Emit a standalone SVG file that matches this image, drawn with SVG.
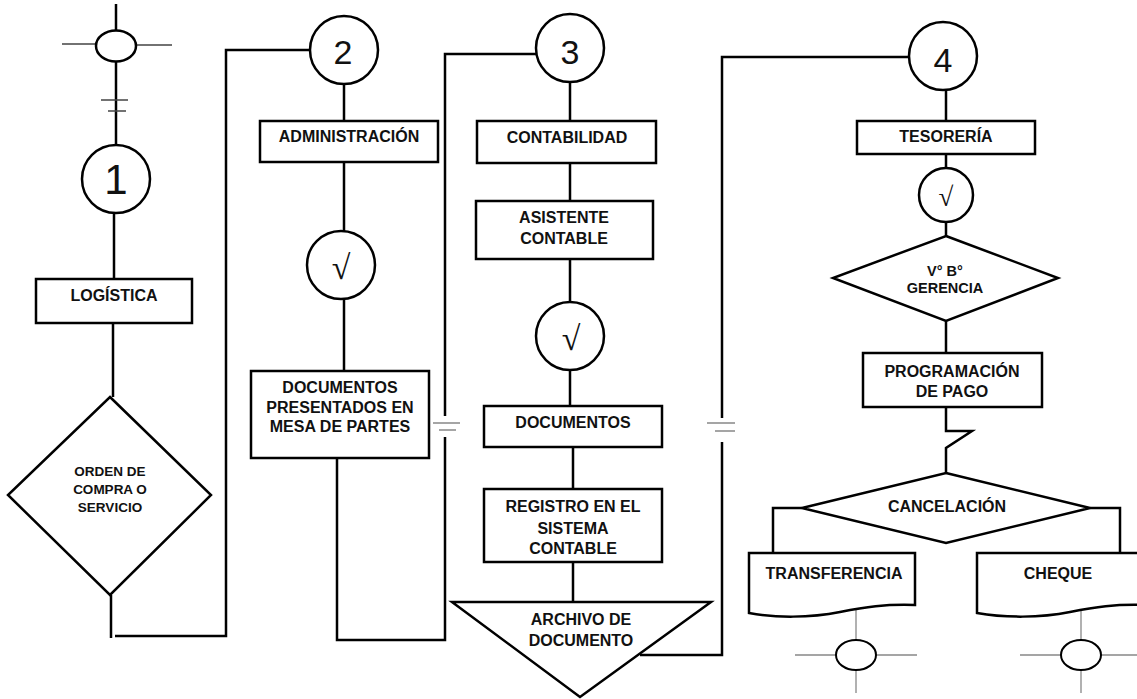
<svg xmlns="http://www.w3.org/2000/svg" width="1137" height="699" viewBox="0 0 1137 699">
<style>
.s{fill:#fff;stroke:#000;stroke-width:2.5}
.c{fill:none;stroke:#000;stroke-width:2.5}
.t{fill:none;stroke:#444;stroke-width:1.3}
.g{fill:none;stroke:#888;stroke-width:1.3}
.l{font-family:"Liberation Sans",Arial,sans-serif;font-weight:bold;font-size:16px;text-anchor:middle;fill:#111}
.n{font-family:"Liberation Sans",Arial,sans-serif;font-size:34px;text-anchor:middle;fill:#111}
.r{font-family:"Liberation Serif","DejaVu Serif",serif;font-size:34px;text-anchor:middle;fill:#111}
</style>
<rect width="1137" height="699" fill="#fff"/>
<g id="connectors">
<path class="c" d="M116,4 V31"/>
<path class="t" d="M62,44 H96 M136,45 H172"/>
<path class="c" d="M116,62 V145"/>
<path class="t" d="M101,100 H128 M108,111 H126"/>
<path class="c" d="M114,213 V279 M113,323 V397 M111,595 V638"/>
<path class="c" d="M115,636 H226 V50 H310"/>
<path class="c" d="M344,84 V121 M344,162 V231 M344,299 V371"/>
<path class="c" d="M337,458 V640 H445 V437 M445,416 V54 H536"/>
<path class="g" d="M433,423 H460 M439,430 H456"/>
<path class="c" d="M570,82 V121 M570,163 V201 M570,259 V302 M570,370 V406 M573,447 V489 M573,562 V602"/>
<path class="c" d="M640,655 H722 V442 M722,418 V57 H909"/>
<path class="g" d="M707,423 H735 M715,431 H735"/>
<path class="c" d="M946,90 V121 M946,154 V168 M946,222 V236 M946,321 V353"/>
<path class="c" d="M946,407 V431 H972 L946,448 V473"/>
<path class="c" d="M802,508 H773 V553 M1090,508 H1120 V553"/>
<path class="g" d="M856,608 V640 M795,655 H836 M876,655 H917 M856,670 V693"/>
<path class="g" d="M1081,608 V640 M1020,655 H1061 M1101,655 H1137 M1081,670 V693"/>
</g>
<g id="start"><ellipse class="s" cx="116" cy="46" rx="20" ry="15.5"/></g>
<g id="c1"><circle class="s" cx="116" cy="179" r="34"/><text class="n" x="116" y="194" style="font-size:42px">1</text></g>
<g id="logistica"><rect class="s" x="36" y="279" width="156" height="44"/><text class="l" x="114" y="301">LOGÍSTICA</text></g>
<g id="orden"><polygon class="s" points="110,397 211,495 110,595 8,495"/>
<text class="l" style="font-size:13.5px" x="110" y="476">ORDEN DE</text>
<text class="l" style="font-size:13.5px" x="110" y="494">COMPRA O</text>
<text class="l" style="font-size:13.5px" x="110" y="512">SERVICIO</text></g>
<g id="c2"><circle class="s" cx="344" cy="50" r="34"/><text class="n" x="343" y="64">2</text></g>
<g id="administracion"><rect class="s" x="260" y="121" width="178" height="41"/><text class="l" x="349" y="142">ADMINISTRACIÓN</text></g>
<g id="check2"><circle class="s" cx="341" cy="265" r="34"/><text class="r" x="341" y="279">√</text></g>
<g id="docpres"><rect class="s" x="251" y="371" width="178" height="87"/>
<text class="l" x="340" y="393">DOCUMENTOS</text>
<text class="l" x="340" y="413">PRESENTADOS EN</text>
<text class="l" x="340" y="432">MESA DE PARTES</text></g>
<g id="c3"><circle class="s" cx="570" cy="48" r="34"/><text class="n" x="570" y="64">3</text></g>
<g id="contabilidad"><rect class="s" x="477" y="121" width="179" height="42"/><text class="l" x="567" y="143">CONTABILIDAD</text></g>
<g id="asistente"><rect class="s" x="476" y="201" width="177" height="58"/>
<text class="l" x="564" y="223">ASISTENTE</text><text class="l" x="564" y="244">CONTABLE</text></g>
<g id="check3"><circle class="s" cx="570" cy="336" r="34"/><text class="r" x="571" y="350">√</text></g>
<g id="documentos"><rect class="s" x="484" y="406" width="178" height="41"/><text class="l" x="573" y="428">DOCUMENTOS</text></g>
<g id="registro"><rect class="s" x="484" y="489" width="178" height="73"/>
<text class="l" x="573" y="512">REGISTRO EN EL</text>
<text class="l" x="573" y="534">SISTEMA</text>
<text class="l" x="573" y="554">CONTABLE</text></g>
<g id="archivo"><polygon class="s" points="452,602 711,602 580,697"/>
<text class="l" x="581" y="625">ARCHIVO DE</text><text class="l" x="581" y="646">DOCUMENTO</text></g>
<g id="c4"><circle class="s" cx="943" cy="56" r="34"/><text class="n" x="943" y="72">4</text></g>
<g id="tesoreria"><rect class="s" x="857" y="121" width="178" height="33"/><text class="l" x="946" y="142">TESORERÍA</text></g>
<g id="check4"><circle class="s" cx="946" cy="195" r="27"/><text class="r" style="font-size:27px" x="946" y="206">√</text></g>
<g id="vb"><polygon class="s" points="946,236 1058,278 946,321 833,278"/>
<text class="l" style="font-size:14.5px" x="945" y="276">V° B°</text>
<text class="l" style="font-size:14.5px" x="945" y="293">GERENCIA</text></g>
<g id="programacion"><rect class="s" x="863" y="353" width="179" height="54"/>
<text class="l" x="952" y="377">PROGRAMACIÓN</text><text class="l" x="952" y="397">DE PAGO</text></g>
<g id="cancelacion"><polygon class="s" points="946,473 1090,508 946,543 802,508"/><text class="l" x="947" y="512">CANCELACIÓN</text></g>
<g id="transferencia"><path class="s" d="M749,553 H915 V605 C885,604 865,607 840,612 C810,618 775,618 749,613 Z"/><text class="l" x="834" y="579">TRANSFERENCIA</text></g>
<g id="cheque"><path class="s" d="M977,553 H1145 V605 C1115,604 1095,607 1070,612 C1040,618 1005,618 977,613 Z"/><text class="l" x="1058" y="579">CHEQUE</text></g>
<g id="end1"><ellipse class="s" cx="856" cy="655" rx="20" ry="15" style="stroke-width:2"/></g>
<g id="end2"><ellipse class="s" cx="1081" cy="655" rx="20" ry="15" style="stroke-width:2"/></g>
</svg>
